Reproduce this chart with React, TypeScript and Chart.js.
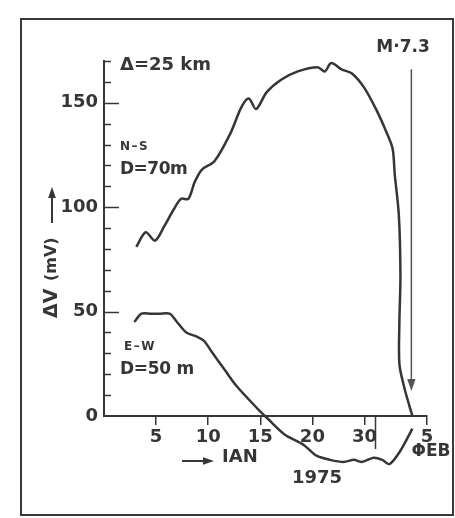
import React, { useEffect, useRef } from 'react';
import { Chart, registerables } from 'chart.js';

Chart.register(...registerables);

// ---- data ----
const xTickValues = [5, 10, 15, 20, 25, 31];
const xTickLabels = ['5', '10', '15', '20', '30', '5'];
const yTickValues = [0, 50, 100, 150];

const nsDays = [3.1, 4.0, 4.9, 5.8, 6.7, 7.4, 8.1, 8.7, 9.4, 10.6, 12.1, 13.2, 13.9, 14.6, 15.6, 17.0, 18.6, 20.5, 21.2, 21.8, 22.8, 23.8, 25.0, 26.2, 27.1, 27.7, 27.9, 28.3, 28.45, 28.35, 28.35, 28.8, 29.3, 29.6];
const nsValues = [81, 88, 84, 91, 99, 104, 104, 112, 118, 122, 135, 148, 152, 147, 155, 161, 165, 167, 165, 169, 166, 164, 157, 146, 136, 128, 116, 96, 67, 45, 25, 14, 5, 0];

const ewDays = [2.9, 3.6, 4.5, 5.3, 6.3, 7.0, 7.9, 8.9, 9.6, 10.3, 11.6, 12.7, 14.7, 15.7, 17.3, 19.2, 20.4, 21.7, 23.0, 24.0, 24.7, 25.9, 26.7, 27.4, 28.4, 29.6];
const ewValues = [45, 49, 49, 49, 49, 45, 40, 38, 36, 31, 22, 14.5, 3.7, -1.2, -8.7, -14, -19, -21, -22, -21, -22, -20, -21, -23, -17, -6];

const monthBoundary = 26;
const quakeDay = 29.5;
const quakeArrowTop = 166;
const quakeArrowBottom = 12;

const INK = '#363636';
const FONT = '"DejaVu Sans", sans-serif';

function arrowHead(ctx: CanvasRenderingContext2D, x: number, y: number, dx: number, dy: number, size: number) {
  const len = Math.hypot(dx, dy);
  const ux = dx / len, uy = dy / len;
  const px = -uy, py = ux;
  ctx.beginPath();
  ctx.moveTo(x, y);
  ctx.lineTo(x - ux * size + px * size * 0.35, y - uy * size + py * size * 0.35);
  ctx.lineTo(x - ux * size - px * size * 0.35, y - uy * size - py * size * 0.35);
  ctx.closePath();
  ctx.fill();
}

const overlay = {
  id: 'overlay',
  afterDraw(chart: any) {
    const ctx: CanvasRenderingContext2D = chart.ctx;
    const xs = chart.scales.x;
    const ys = chart.scales.y;
    const area = chart.chartArea;
    ctx.save();
    ctx.strokeStyle = INK;
    ctx.fillStyle = INK;
    ctx.lineWidth = 1.5;

    // inward y ticks every 10
    for (let v = 10; v <= 170; v += 10) {
      const py = Math.round(ys.getPixelForValue(v)) + 0.5;
      const len = v % 50 === 0 ? 15 : 7;
      ctx.beginPath();
      ctx.moveTo(area.left, py);
      ctx.lineTo(area.left + len, py);
      ctx.stroke();
    }

    // month boundary tick (long)
    const pb = Math.round(xs.getPixelForValue(monthBoundary)) + 0.5;
    ctx.beginPath();
    ctx.moveTo(pb, area.bottom);
    ctx.lineTo(pb, area.bottom + 33);
    ctx.stroke();

    // earthquake arrow
    const qx = xs.getPixelForValue(quakeDay);
    const qt = ys.getPixelForValue(quakeArrowTop);
    const qb = ys.getPixelForValue(quakeArrowBottom);
    ctx.strokeStyle = '#555';
    ctx.fillStyle = '#555';
    ctx.beginPath();
    ctx.moveTo(qx, qt);
    ctx.lineTo(qx, qb - 6);
    ctx.stroke();
    arrowHead(ctx, qx, qb, 0, 1, 12);

    ctx.fillStyle = INK;
    ctx.strokeStyle = INK;
    ctx.textBaseline = 'middle';

    const text = (s: string, x: number, y: number, size: number, align: CanvasTextAlign = 'left', spacing = '0px') => {
      ctx.font = `bold ${size}px ${FONT}`;
      ctx.textAlign = align;
      (ctx as any).letterSpacing = spacing;
      ctx.fillText(s, x, y);
      (ctx as any).letterSpacing = '0px';
    };

    text('Δ=25 km', 120, 65, 18);
    text('N–S', 120, 147, 12, 'left', '1.5px');
    text('D=70m', 120, 170, 17, 'left', '-0.5px');
    text('E–W', 124, 347, 12, 'left', '1.5px');
    text('D=50 m', 120, 370, 17, 'left', '-0.3px');
    text('M·7.3', 403, 48, 17, 'center');
    text('ΦEB', 431, 452, 17, 'center');
    text('IAN', 222, 457, 18);
    text('1975', 317, 478, 18, 'center');

    // arrow before IAN
    ctx.lineWidth = 2;
    ctx.beginPath();
    ctx.moveTo(182, 461);
    ctx.lineTo(206, 461);
    ctx.stroke();
    arrowHead(ctx, 214, 461, 1, 0, 11);

    // rotated y title with upward arrow
    ctx.save();
    ctx.translate(52, 0);
    ctx.rotate(-Math.PI / 2);
    ctx.font = `bold 19px ${FONT}`;
    ctx.textAlign = 'left';
    ctx.fillText('ΔV', -318, 0);
    ctx.font = `bold 16px ${FONT}`;
    ctx.fillText('(mV)', -281, 0);
    ctx.beginPath();
    ctx.moveTo(-223, 0);
    ctx.lineTo(-198, 0);
    ctx.stroke();
    arrowHead(ctx, -187, 0, 1, 0, 11);
    ctx.restore();

    ctx.restore();
  },
};

export default function App() {
  const canvasRef = useRef<HTMLCanvasElement | null>(null);

  useEffect(() => {
    if (!canvasRef.current) return;
    const lineStyle = {
      borderColor: INK,
      borderWidth: 2.5,
      pointRadius: 0,
      tension: 0.3,
      fill: false,
      clip: false as any,
    };
    const chart = new Chart(canvasRef.current, {
      type: 'line',
      data: {
        datasets: [
          { label: 'N-S', data: nsDays.map((d, i) => ({ x: d, y: nsValues[i] })), ...lineStyle },
          { label: 'E-W', data: ewDays.map((d, i) => ({ x: d, y: ewValues[i] })), ...lineStyle },
        ],
      },
      options: {
        animation: false,
        responsive: false,
        devicePixelRatio: 1,
        layout: { padding: { top: 61, right: 28, left: 0, bottom: 0 } },
        plugins: { legend: { display: false }, tooltip: { enabled: false }, title: { display: false } },
        scales: {
          x: {
            type: 'linear',
            min: 0,
            max: 31,
            position: 'bottom',
            border: { display: true, color: INK, width: 2 },
            grid: { drawOnChartArea: false, drawTicks: true, tickLength: 9, color: INK, lineWidth: 1.5 },
            ticks: {
              autoSkip: false,
              maxRotation: 0,
              padding: 2,
              color: INK,
              font: { family: FONT, size: 18, weight: 'bold' },
              callback: (value: any) => {
                const i = xTickValues.indexOf(Number(value));
                return i >= 0 ? xTickLabels[i] : '';
              },
            },
            afterBuildTicks: (s: any) => {
              s.ticks = xTickValues.map((v) => ({ value: v }));
            },
            afterFit: (s: any) => {
              s.height = 102;
            },
          },
          y: {
            type: 'linear',
            min: 0,
            max: 170,
            border: { display: true, color: INK, width: 2 },
            grid: { display: false, drawTicks: false },
            ticks: {
              padding: 6,
              color: INK,
              font: { family: FONT, size: 18, weight: 'bold' },
            },
            afterBuildTicks: (s: any) => {
              s.ticks = yTickValues.map((v) => ({ value: v }));
            },
            afterFit: (s: any) => {
              s.width = 104;
            },
          },
        },
      },
      plugins: [overlay],
    });
    return () => chart.destroy();
  }, []);

  return (
    <div style={{ position: 'fixed', left: 0, top: 0, width: 455, height: 518, background: '#fff', overflow: 'hidden' }}>
      <div
        style={{
          position: 'absolute',
          left: 20,
          top: 18,
          width: 434,
          height: 498,
          boxSizing: 'border-box',
          border: '2px solid #3a3a3a',
        }}
      />
      <canvas ref={canvasRef} width={455} height={518} style={{ position: 'absolute', left: 0, top: 0 }} />
    </div>
  );
}
